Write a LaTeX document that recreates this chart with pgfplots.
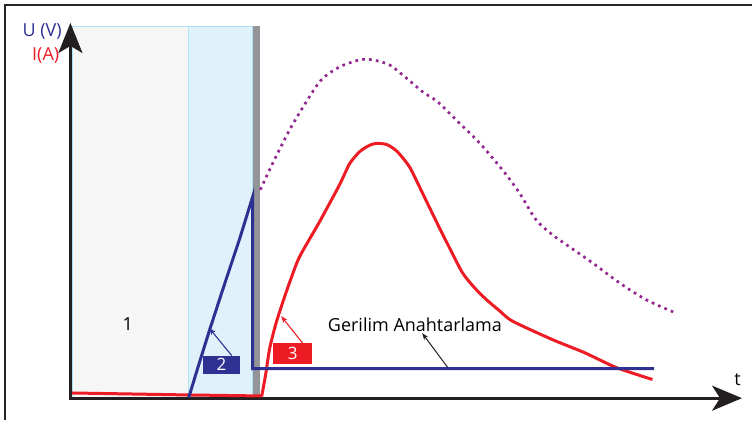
\documentclass[border=0pt]{standalone}
\usepackage{fontspec}
\setmainfont{Open Sans}
\usepackage{pgfplots}
\pgfplotsset{compat=1.18}
\usetikzlibrary{arrows.meta}

\definecolor{zoneone}{HTML}{F6F6F6}
\definecolor{zonetwo}{HTML}{DFF1FB}
\definecolor{zoneedge}{HTML}{AEE3F7}
\definecolor{wall}{HTML}{939598}
\definecolor{ublue}{HTML}{2E3192}
\definecolor{ired}{HTML}{ED1C24}
\definecolor{envpurple}{HTML}{92278F}
\definecolor{axblack}{HTML}{231F20}

\newcommand{\lbl}{\fontsize{18}{18}\selectfont}

\begin{document}
\begin{tikzpicture}
\begin{axis}[
    hide axis,
    scale only axis,
    width=753pt, height=421pt,
    xmin=0, xmax=753,
    ymin=0, ymax=421,
    y dir=reverse,
    clip=false,
  ]
  % keep the whole frame in the bounding box
  \addplot[draw=none] coordinates {(0,0) (753,421)};

  % zones 1 and 2, and the wall
  \addplot[fill=zoneone, draw=zoneedge, line width=0.8pt] coordinates
    {(72,398) (72,26) (188.5,26) (188.5,398)} -- cycle;
  \addplot[fill=zonetwo, draw=zoneedge, line width=0.8pt] coordinates
    {(188.5,398) (188.5,26) (253,26) (253,398)} -- cycle;
  \addplot[fill=wall, draw=none] coordinates
    {(253,398) (253,26) (260.5,26) (260.5,398)} -- cycle;

  % outer frame
  \addplot[color=black!85, line width=2pt] coordinates {(5,421) (5,5) (753,5)};

  % axes
  \addplot[color=axblack, line width=3pt,
    -{Stealth[length=30pt, width=24pt, inset=7pt]}]
    coordinates {(70.5,400) (70.5,23)};
  \addplot[color=axblack, line width=3pt,
    -{Stealth[length=30pt, width=25pt, inset=8pt]}]
    coordinates {(69,398.7) (743,398.7)};

  % envelope (dotted)
  \addplot[color=envpurple, line width=2.7pt, dash pattern=on 2.7pt off 4.2pt,
    smooth, tension=0.5] coordinates {
    (260.7,190) (273.3,163) (290,130) (306.7,102) (321.7,80) (340,67)
    (360,60) (373,60) (390,65) (406.7,78) (423.3,92) (438.3,102)
    (456.7,120) (480,143) (503,170) (520,193) (536.7,220) (553,235)
    (570,247) (593,263) (620,283) (646.7,300) (675,312.7)
  };

  % current I
  \addplot[color=ired, line width=3pt] coordinates {
    (72,393.5) (190,395.5) (262.5,396.5)
  };
  \addplot[color=ired, line width=3pt, smooth, tension=0.4] coordinates {
    (262,397) (266,375) (270,349) (276,325)
    (283,303) (291,280) (300,257) (320,222) (340,185) (350,164)
    (360,152) (370,145.5) (378,143.5) (388,145) (398,152) (410,167)
    (420,187) (436,220) (450,248) (463,273) (475,288) (487,300)
    (500,311) (513,321.5) (553,340) (585,353) (617,368) (653.3,380)
  };

  % voltage U
  \addplot[color=ublue, line width=3pt, line join=miter] coordinates {
    (189,398) (200,362) (210,330) (225,284) (240,239) (253,197)
    (253,369) (655,369)
  };

  % callout arrows
  \addplot[color=ublue, line width=1.1pt, -{Stealth[length=7pt, width=5pt]}]
    coordinates {(232,356) (209.5,328.5)};
  \addplot[color=ired, line width=1.1pt, -{Stealth[length=7pt, width=5pt]}]
    coordinates {(303,343.5) (281.5,316.5)};
  \addplot[color=axblack, line width=1pt, -{Stealth[length=7pt, width=5pt]}]
    coordinates {(448.3,368) (422.7,333.5)};

  % labels
  \node[anchor=base east, text=ublue, inner sep=0pt, font=\lbl]
    at (axis cs:62,36.7) {U (V)};
  \node[anchor=base east, text=ired, inner sep=0pt, font=\lbl]
    at (axis cs:59.5,61) {I(A)};
  \node[anchor=base, inner sep=0pt, font=\lbl] at (axis cs:738.5,386.5) {t};
  \node[anchor=base, inner sep=0pt, font=\lbl] at (axis cs:128,331) {1};
  \node[fill=ublue, text=white, inner sep=0pt, minimum width=37pt,
    minimum height=18pt, font=\fontsize{17}{17}\selectfont]
    at (axis cs:221.7,365) {2};
  \node[fill=ired, text=white, inner sep=0pt, minimum width=39.5pt,
    minimum height=20.7pt, font=\fontsize{17}{17}\selectfont]
    at (axis cs:293,353.7) {3};
  \node[anchor=base, inner sep=0pt, font=\lbl]
    at (axis cs:415.5,331.7) {Gerilim Anahtarlama};
\end{axis}
\end{tikzpicture}
\end{document}
